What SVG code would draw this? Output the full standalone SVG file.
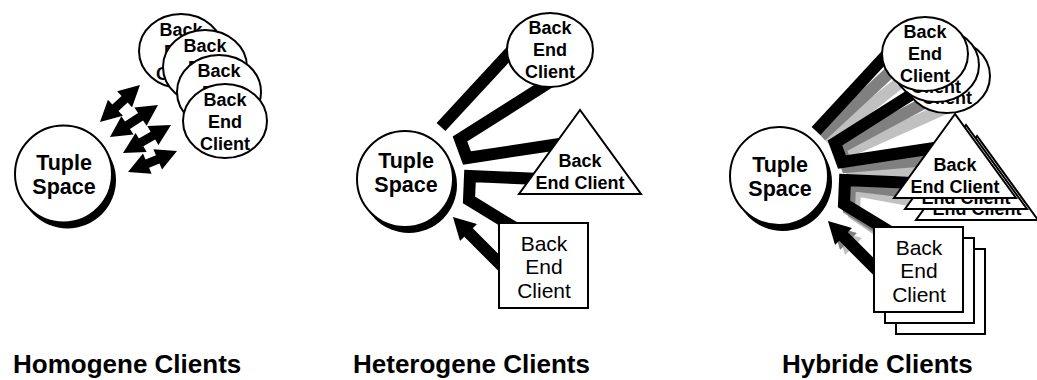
<svg xmlns="http://www.w3.org/2000/svg" width="1037" height="380" viewBox="0 0 1037 380">
<defs>
<style>
.n{fill:#fff;stroke:#000;stroke-width:2}
.sh{fill:#000}
text{font-family:"Liberation Sans",Arial,Helvetica,sans-serif;text-anchor:middle;fill:#000}
.b{font-weight:bold;font-size:18px}
.r{font-size:21px}
.t{font-weight:bold;font-size:21.5px}
.lbl{font-weight:bold;font-size:26px;text-anchor:start}
.c{fill:none;stroke-width:12;stroke-linejoin:miter}
.k{stroke:#000}
.d{stroke:#808080}
.l{stroke:#c0c0c0}
.ar{fill:#000;stroke:none}
</style>
<marker id="hk" viewBox="0 0 22 24" refX="1" refY="12" markerWidth="22" markerHeight="24" markerUnits="userSpaceOnUse" orient="auto-start-reverse"><path d="M0,0 L22,12 L0,24 Z" fill="#000"/></marker>
<marker id="hd" viewBox="0 0 22 24" refX="1" refY="12" markerWidth="22" markerHeight="24" markerUnits="userSpaceOnUse" orient="auto-start-reverse"><path d="M0,0 L22,12 L0,24 Z" fill="#808080"/></marker>
<marker id="hl" viewBox="0 0 22 24" refX="1" refY="12" markerWidth="22" markerHeight="24" markerUnits="userSpaceOnUse" orient="auto-start-reverse"><path d="M0,0 L22,12 L0,24 Z" fill="#c0c0c0"/></marker>
</defs>
<rect width="1037" height="380" fill="#fff"/>

<!-- Panel 1: Homogene -->
<g id="p1-connectors">
<polygon class="ar" points="100,122 122.88,115.81 118.47,111.04 127.65,102.56 132.06,107.33 140,85 117.12,91.19 121.53,95.96 112.35,104.44 107.94,99.67"/>
<polygon class="ar" points="110,137 133.58,134.5 129.97,129.09 143.03,120.39 146.64,125.8 158,105 134.42,107.5 138.03,112.91 124.97,121.61 121.37,116.2"/>
<polygon class="ar" points="123,153 146.69,151.92 143.41,146.31 155.13,139.47 158.41,145.08 171,125 147.31,126.08 150.59,131.69 138.87,138.53 135.6,132.92"/>
<polygon class="ar" points="128,172 151.63,173.84 149.07,167.87 159.47,163.41 162.03,169.38 177,151 153.37,149.16 155.93,155.13 145.53,159.59 142.97,153.62"/>
</g>
<g id="p1-tuple">
<circle class="sh" cx="67.5" cy="180" r="48.5"/>
<circle class="n" cx="63.5" cy="174" r="48.5"/>
<text class="t" x="64" y="170">Tuple</text>
<text class="t" x="64" y="194">Space</text>
</g>
<g id="p1-client1">
<ellipse class="n" cx="181" cy="51" rx="42" ry="37"/>
<text class="b" x="181" y="36">Back</text><text class="b" x="181" y="58">End</text><text class="b" x="181" y="80">Client</text>
</g>
<g id="p1-client2">
<ellipse class="n" cx="205" cy="67" rx="42" ry="37"/>
<text class="b" x="205" y="52">Back</text><text class="b" x="205" y="74">End</text><text class="b" x="205" y="96">Client</text>
</g>
<g id="p1-client3">
<ellipse class="n" cx="219" cy="92" rx="42" ry="37"/>
<text class="b" x="219" y="77">Back</text><text class="b" x="219" y="99">End</text><text class="b" x="219" y="121">Client</text>
</g>
<g id="p1-client4">
<ellipse class="n" cx="225" cy="121" rx="42" ry="37"/>
<text class="b" x="225" y="106">Back</text><text class="b" x="225" y="128">End</text><text class="b" x="225" y="150">Client</text>
</g>

<!-- Panel 2: Heterogene -->
<g id="p2-connectors">
<path class="c k" d="M441,127 L515,47"/>
<path class="c k" d="M553,80 L460,139 L467,158 L566,143"/>
<path class="c k" d="M540,179 L470,176 L469,200 L520,231"/>
<line class="c k" x1="467.8" y1="231.8" x2="508" y2="272" marker-start="url(#hk)"/>
</g>
<g id="p2-tuple">
<circle class="sh" cx="409" cy="185" r="48"/>
<circle class="n" cx="405" cy="179" r="48"/>
<text class="t" x="406" y="168">Tuple</text>
<text class="t" x="406" y="192">Space</text>
</g>
<g id="p2-circle-client">
<ellipse class="n" cx="550" cy="50" rx="43" ry="37"/>
<text class="b" x="550" y="34">Back</text><text class="b" x="550" y="56">End</text><text class="b" x="550" y="78">Client</text>
</g>
<g id="p2-triangle-client">
<polygon class="n" points="580,110 519,194 641,194"/>
<text class="b" x="580" y="167">Back</text><text class="b" x="580" y="189">End Client</text>
</g>
<g id="p2-box-client">
<rect class="n" x="499" y="223" width="89" height="85"/>
<text class="r" x="544" y="251">Back</text><text class="r" x="544" y="274">End</text><text class="r" x="544" y="298">Client</text>
</g>

<!-- Panel 3: Hybride -->
<g id="p3-connectors" transform="translate(375,4)">
<g id="p3-conn-light">
<path class="c l" d="M451,137 L537,69"/>
<path class="c l" d="M575,102 L470,149 L477,168 L588,165"/>
<path class="c l" d="M562,201 L480,186 L479,210 L542,253"/>
<line class="c l" x1="477.8" y1="241.8" x2="530" y2="294" marker-start="url(#hl)"/>
</g>
<g id="p3-conn-dark">
<path class="c d" d="M446,132 L526,58"/>
<path class="c d" d="M564,91 L465,144 L472,163 L577,154"/>
<path class="c d" d="M551,190 L475,181 L474,205 L531,242"/>
<line class="c d" x1="472.8" y1="236.8" x2="519" y2="283" marker-start="url(#hd)"/>
</g>
<g id="p3-conn-black">
<path class="c k" d="M441,127 L515,47"/>
<path class="c k" d="M553,80 L460,139 L467,158 L566,143"/>
<path class="c k" d="M540,179 L470,176 L469,200 L520,231"/>
<line class="c k" x1="467.8" y1="231.8" x2="508" y2="272" marker-start="url(#hk)"/>
</g>
</g>
<g id="p3-tuple">
<circle class="sh" cx="783" cy="182" r="49"/>
<circle class="n" cx="779" cy="176" r="49"/>
<text class="t" x="780" y="172">Tuple</text>
<text class="t" x="780" y="196">Space</text>
</g>
<g id="p3-nodes" transform="translate(375,4)">
<g id="p3-circle-client-3" transform="translate(22,22)">
<ellipse class="n" cx="550" cy="50" rx="43" ry="37"/>
<text class="b" x="550" y="34">Back</text><text class="b" x="550" y="56">End</text><text class="b" x="550" y="78">Client</text>
</g>
<g id="p3-circle-client-2" transform="translate(11,11)">
<ellipse class="n" cx="550" cy="50" rx="43" ry="37"/>
<text class="b" x="550" y="34">Back</text><text class="b" x="550" y="56">End</text><text class="b" x="550" y="78">Client</text>
</g>
<g id="p3-circle-client-1">
<ellipse class="n" cx="550" cy="50" rx="43" ry="37"/>
<text class="b" x="550" y="34">Back</text><text class="b" x="550" y="56">End</text><text class="b" x="550" y="78">Client</text>
</g>
<g id="p3-triangle-client-3" transform="translate(22,22)">
<polygon class="n" points="580,110 519,194 641,194"/>
<text class="b" x="580" y="167">Back</text><text class="b" x="580" y="189">End Client</text>
</g>
<g id="p3-triangle-client-2" transform="translate(11,11)">
<polygon class="n" points="580,110 519,194 641,194"/>
<text class="b" x="580" y="167">Back</text><text class="b" x="580" y="189">End Client</text>
</g>
<g id="p3-triangle-client-1">
<polygon class="n" points="580,110 519,194 641,194"/>
<text class="b" x="580" y="167">Back</text><text class="b" x="580" y="189">End Client</text>
</g>
<g id="p3-box-client-3" transform="translate(22,22)">
<rect class="n" x="499" y="223" width="89" height="85"/>
<text class="r" x="544" y="251">Back</text><text class="r" x="544" y="274">End</text><text class="r" x="544" y="298">Client</text>
</g>
<g id="p3-box-client-2" transform="translate(11,11)">
<rect class="n" x="499" y="223" width="89" height="85"/>
<text class="r" x="544" y="251">Back</text><text class="r" x="544" y="274">End</text><text class="r" x="544" y="298">Client</text>
</g>
<g id="p3-box-client-1">
<rect class="n" x="499" y="223" width="89" height="85"/>
<text class="r" x="544" y="251">Back</text><text class="r" x="544" y="274">End</text><text class="r" x="544" y="298">Client</text>
</g>
</g>

<g id="labels">
<text class="lbl" x="13" y="373">Homogene Clients</text>
<text class="lbl" x="353" y="373">Heterogene Clients</text>
<text class="lbl" x="782" y="373">Hybride Clients</text>
</g>
</svg>
